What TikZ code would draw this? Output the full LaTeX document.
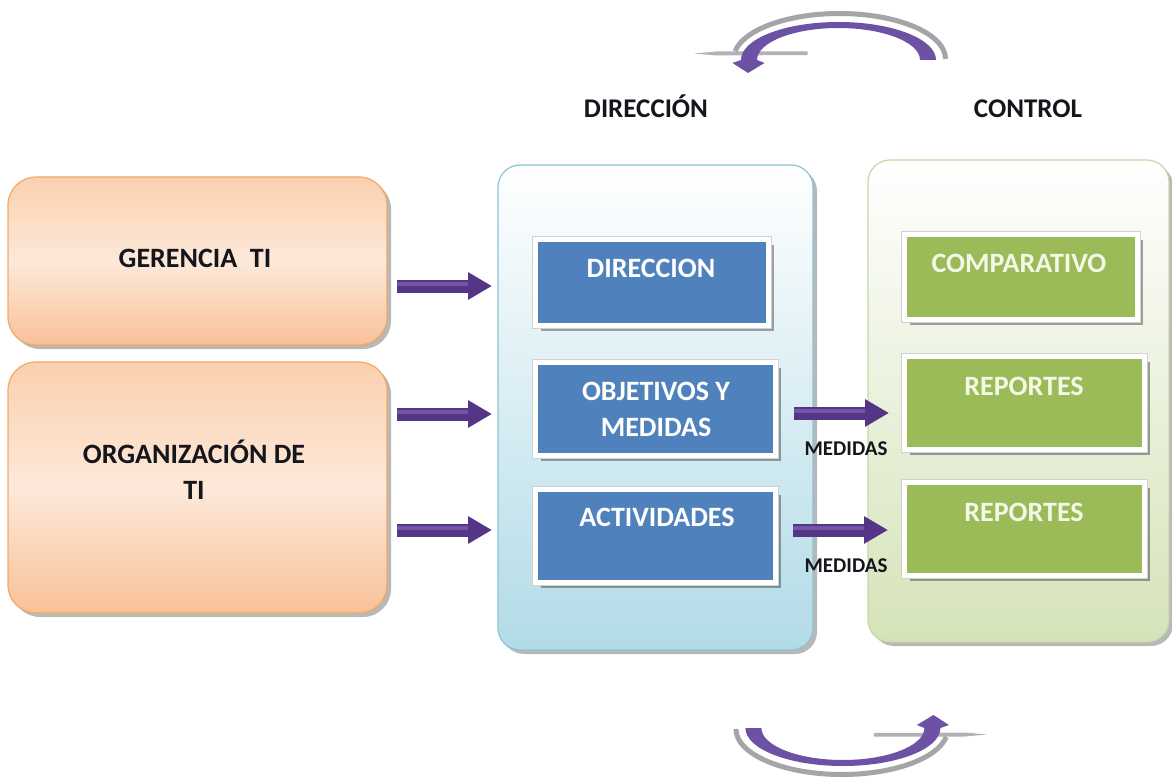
\documentclass[tikz,border=0pt]{standalone}
\usepackage{fontspec}
\setmainfont{Carlito}
\usetikzlibrary{arrows.meta,shadows}

\definecolor{peachTop}{HTML}{FAD0AE}
\definecolor{peachMid}{HTML}{FDE9DA}
\definecolor{peachBot}{HTML}{F8C197}
\definecolor{peachLine}{HTML}{F0A967}
\definecolor{dirBlue}{HTML}{4F81BD}
\definecolor{ctlGreen}{HTML}{9BBB59}
\definecolor{paleBlue}{HTML}{B2DBE7}
\definecolor{blueLine}{HTML}{8CC3D8}
\definecolor{paleGreen}{HTML}{D5E3B9}
\definecolor{greenLine}{HTML}{C6D8A6}
\definecolor{arrowPurple}{HTML}{553585}
\definecolor{arrowLight}{HTML}{7455A5}
\definecolor{loopPurple}{HTML}{6D51A4}
\definecolor{rimGray}{HTML}{A4A4A9}
\definecolor{greenText}{HTML}{F4F8E6}
\definecolor{darkText}{HTML}{15151C}

\tikzset{
  softshadow/.style={drop shadow={shadow xshift=4pt,shadow yshift=-4pt,fill=black,opacity=0.28}},
  sourcebox/.style={rounded corners=28pt, draw=peachLine, line width=1.2pt,
    top color=peachTop, bottom color=peachBot, middle color=peachMid, softshadow},
  dirpanel/.style={rounded corners=22pt, draw=blueLine, line width=1.2pt,
    top color=white, bottom color=paleBlue, softshadow},
  ctlpanel/.style={rounded corners=22pt, draw=greenLine, line width=1.2pt,
    top color=white, bottom color=paleGreen, softshadow},
  framedbox/.style={draw=white, line width=5pt,
    drop shadow={shadow xshift=5.5pt,shadow yshift=-5.5pt,fill=black,opacity=0.35},
    preaction={draw=black!18, line width=7pt}},
  dirbox/.style={framedbox, fill=dirBlue},
  ctlbox/.style={framedbox, fill=ctlGreen},
  lbl/.style={font=\fontsize{28}{36}\selectfont\bfseries, inner sep=0pt, anchor=base},
  hdr/.style={font=\fontsize{27}{32}\selectfont\bfseries, inner sep=0pt, anchor=base, text=darkText},
  smalllbl/.style={font=\fontsize{21}{24}\selectfont\bfseries, inner sep=0pt, anchor=base, text=darkText},
  blockarrow/.style={draw=arrowPurple, line width=13pt, -{Triangle[length=24pt,width=26pt]},
    postaction={draw=arrowLight, line width=4pt, -, shorten >=24pt, transform canvas={yshift=2.5pt}}},
  pics/cycleloop/.style={code={
    % flat grey plate under the arrow head
    \fill[rimGray!85] (-144,-6.5) -- (-122,-8.5) -- (-31,-8.5) -- (-31,-5) -- (-122,-4.5) -- cycle;
    % grey outer rim of the bent arrow
    \draw[rimGray, line width=5pt] (107,-1) arc[start angle=0,end angle=170,x radius=106pt,y radius=45.5pt];
    % purple bent arrow with its head
    \fill[loopPurple] (97.5,0) arc[start angle=0,end angle=180,x radius=97.5pt,y radius=38pt]
      -- (-106,3) -- (-90.5,13) -- (-74,3) -- (-81.5,0)
      arc[start angle=180,end angle=0,x radius=81.5pt,y radius=32pt] -- cycle;
  }}
}

\begin{document}
\begin{tikzpicture}[x=1pt,y=-1pt]
\useasboundingbox (0,0) rectangle (1172,778);
\fill[white] (0,0) rectangle (1172,778);

% cycle arrows above and below
\pic (loopTop) at (838.5,60) {cycleloop};
\pic[rotate=180] (loopBottom) at (842.9,728) {cycleloop};

% column headers
\node[hdr] (hdrDir) at (646,118) {DIRECCIÓN};
\node[hdr] (hdrCtl) at (1028,118) {CONTROL};

% source boxes on the left
\node[sourcebox, minimum width=379pt, minimum height=168pt] (gerencia) at (197.5,261) {};
\node[sourcebox, minimum width=379pt, minimum height=251pt] (organiz) at (197.5,487.5) {};
\node[lbl, text=darkText] (gerenciaT) at (195,267) {GERENCIA\ \ TI};
\node[lbl, text=darkText] (organizT) at (194,463) {\begin{tabular}[t]{@{}c@{}}ORGANIZACIÓN DE\\TI\end{tabular}};

% panels
\node[dirpanel, minimum width=315pt, minimum height=485pt] (dirPanel) at (655.5,407.5) {};
\node[ctlpanel, minimum width=301pt, minimum height=482pt] (ctlPanel) at (1018.5,401) {};

% direction boxes
\node[dirbox, minimum width=233pt, minimum height=86pt] (direccion) at (652,282.5) {};
\node[dirbox, minimum width=240pt, minimum height=93pt] (objetivos) at (655.5,409) {};
\node[dirbox, minimum width=240pt, minimum height=93pt] (actividades) at (655.5,536) {};
\node[lbl, text=white] (direccionT) at (651,277) {DIRECCION};
\node[lbl, text=white] (objetivosT) at (656,400) {\begin{tabular}[t]{@{}c@{}}OBJETIVOS Y\\MEDIDAS\end{tabular}};
\node[lbl, text=white] (actividadesT) at (657,526) {ACTIVIDADES};

% control boxes
\node[ctlbox, minimum width=233pt, minimum height=85pt] (comparativo) at (1021,277) {};
\node[ctlbox, minimum width=240pt, minimum height=93pt] (reportesA) at (1024.5,403) {};
\node[ctlbox, minimum width=240pt, minimum height=93pt] (reportesB) at (1024.5,529) {};
\node[lbl, text=greenText] (comparativoT) at (1019,272) {COMPARATIVO};
\node[lbl, text=greenText] (reportesAT) at (1024,395) {REPORTES};
\node[lbl, text=greenText] (reportesBT) at (1024,521) {REPORTES};

% inputs into the direction panel
\coordinate (inAs) at (397,286);  \coordinate (inAe) at (492,286);
\coordinate (inBs) at (397,414);  \coordinate (inBe) at (492,414);
\coordinate (inCs) at (397,530);  \coordinate (inCe) at (492,530);
\draw[blockarrow] (inAs) -- (inAe);
\draw[blockarrow] (inBs) -- (inBe);
\draw[blockarrow] (inCs) -- (inCe);

% measures passed on to control
\coordinate (msAs) at (794,413);  \coordinate (msAe) at (889,413);
\coordinate (msBs) at (793,530);  \coordinate (msBe) at (888,530);
\draw[blockarrow] (msAs) -- (msAe);
\draw[blockarrow] (msBs) -- (msBe);
\node[smalllbl] (medidasA) at (846,455) {MEDIDAS};
\node[smalllbl] (medidasB) at (846,572) {MEDIDAS};
\end{tikzpicture}
\end{document}
